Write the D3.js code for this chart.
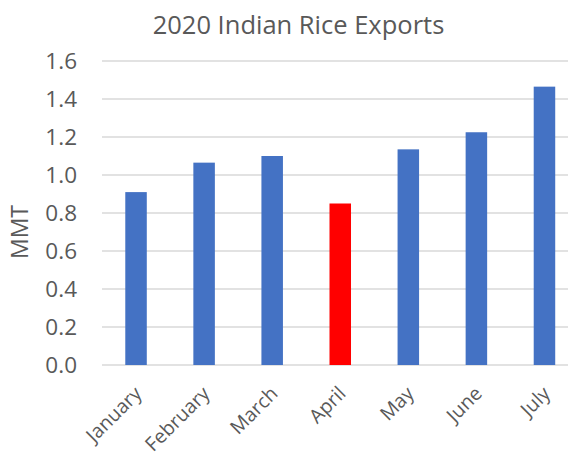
<!DOCTYPE html>
<html><head><meta charset="utf-8">
<script src="https://cdn.jsdelivr.net/npm/d3@7"></script>
<style>
body{margin:0;background:#fff;}
text{font-family:"Open Sans",sans-serif;fill:#595959;}
</style></head>
<body><svg id="chart" width="568" height="457"></svg>
<script>
const months = ["January","February","March","April","May","June","July"];
const exportsMMT = [0.91, 1.065, 1.10, 0.85, 1.135, 1.225, 1.465];
const highlightMonth = ["April"];
const yTicks = [0,0.2,0.4,0.6,0.8,1.0,1.2,1.4,1.6];
const title = "2020 Indian Rice Exports";
const yLabel = "MMT";

const svg = d3.select("#chart");
const x = d3.scaleBand().domain(months).range([102, 578.5]).padding(0);
const y = d3.scaleLinear().domain([0,1.6]).range([365, 61]);
const barW = x.bandwidth()*0.316;

svg.append("g").selectAll("line").data(yTicks).join("line")
  .attr("x1",102).attr("x2",578.5)
  .attr("y1",d=>y(d)).attr("y2",d=>y(d))
  .attr("stroke","#d9d9d9").attr("stroke-width",1.5);

svg.append("g").selectAll("rect").data(months).join("rect")
  .attr("x",(d)=>x(d)+x.bandwidth()/2-barW/2)
  .attr("width",barW)
  .attr("y",(d,i)=>y(exportsMMT[i]))
  .attr("height",(d,i)=>y(0)-y(exportsMMT[i]))
  .attr("fill",d=>highlightMonth.includes(d)?"#ff0000":"#4472c4");

svg.append("g").selectAll("text").data(yTicks).join("text")
  .attr("x",77).attr("y",d=>y(d)).attr("dy","0.36em")
  .attr("text-anchor","end").style("font-size","22.5px")
  .text(d=>d3.format(".1f")(d));

svg.append("g").selectAll("text").data(months).join("text")
  .attr("text-anchor","end").style("font-size","19.5px")
  .attr("transform",d=>`translate(${x(d)+x.bandwidth()/2+2},${390}) rotate(-45)`)
  .attr("dy","0.35em")
  .text(d=>d);

svg.append("text").attr("x",298.5).attr("y",34).attr("text-anchor","middle")
  .style("font-size","25.5px").text(title);

svg.append("text").attr("transform","translate(28,232) rotate(-90)")
  .attr("text-anchor","middle").style("font-size","23px").text(yLabel);
</script></body></html>
